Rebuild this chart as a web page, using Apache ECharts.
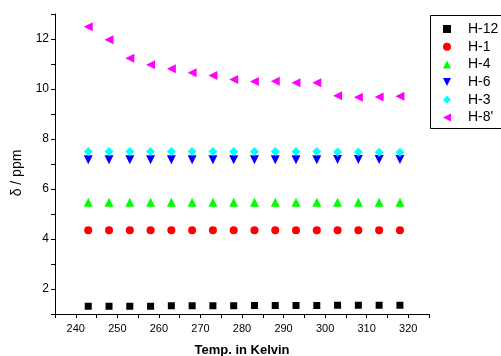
<!DOCTYPE html>
<html><head><meta charset="utf-8">
<script src="https://cdn.jsdelivr.net/npm/echarts@6/dist/echarts.min.js"></script>
<style>html,body{margin:0;padding:0;background:#fff}#c{width:501px;height:356px}</style>
</head><body><div id="c"></div>
<script>
const temps = [243,248,253,258,263,268,273,278,283,288,293,298,303,308,313,318];
const H12 = [1.31,1.31,1.31,1.31,1.33,1.33,1.33,1.33,1.34,1.34,1.34,1.34,1.35,1.35,1.35,1.35];
const H1  = [4.35,4.35,4.35,4.35,4.35,4.35,4.35,4.35,4.35,4.35,4.35,4.35,4.35,4.35,4.35,4.35];
const H4  = [5.47,5.47,5.47,5.47,5.47,5.47,5.47,5.47,5.47,5.47,5.47,5.47,5.47,5.47,5.47,5.47];
const H6  = [7.17,7.17,7.17,7.17,7.17,7.17,7.17,7.17,7.17,7.17,7.17,7.17,7.18,7.18,7.18,7.18];
const H3  = [7.5,7.5,7.5,7.5,7.5,7.5,7.5,7.5,7.5,7.5,7.5,7.5,7.48,7.48,7.47,7.47];
const H8p = [12.49,11.97,11.23,10.97,10.81,10.65,10.54,10.38,10.30,10.31,10.25,10.25,9.73,9.67,9.68,9.71];
const seriesNames = ['H-12','H-1','H-4','H-6','H-3',"H-8'"];
const xTickLabels = ['240','250','260','270','280','290','300','310','320'];
const yTickLabels = ['2','4','6','8','10','12'];

const styles = [
  {symbol:'rect', size:7, rot:0, color:'#000000', icon:'rect'},
  {symbol:'circle', size:8, rot:0, color:'#ff0000', icon:'circle'},
  {symbol:'triangle', size:9, rot:0, color:'#00ff00', icon:'triangle'},
  {symbol:'triangle', size:9, rot:180, color:'#0000ff', icon:'path://M0,0L10,0L5,10Z'},
  {symbol:'diamond', size:9, rot:0, color:'#00ffff', icon:'diamond'},
  {symbol:'triangle', size:9, rot:90, color:'#ff00ff', icon:'path://M10,0L10,10L0,5Z'}
];
const dataSets = [H12,H1,H4,H6,H3,H8p];
const font = 'Liberation Sans, Arial, sans-serif';
const chart = echarts.init(document.getElementById('c'), null, {renderer:'canvas'});
chart.setOption({
  animation:false,
  backgroundColor:'#fff',
  grid:{left:55, right:72, top:14, bottom:42, outerBoundsMode:'none', containLabel:false},
  graphic:[{type:'rect', shape:{x:430.5, y:15.5, width:80, height:113},
    style:{fill:'none', stroke:'#000', lineWidth:1}, silent:true, z:-1}],
  legend:{
    orient:'vertical', left:443, top:22,
    data: seriesNames.map((n,i)=>({name:n, icon:styles[i].icon})),
    itemWidth:8, itemHeight:8, itemGap:3.7,
    padding:0,
    itemStyle:{borderWidth:0, opacity:1},
    textStyle:{fontFamily:font, fontSize:14, color:'#000', padding:[0,0,0,12]}
  },
  xAxis:{
    type:'value', min:235, max:325, interval:5,
    name:'Temp. in Kelvin', nameLocation:'middle', nameGap:30,
    nameTextStyle:{fontFamily:font, fontSize:13, fontWeight:'bold', color:'#000'},
    axisLine:{onZero:false, lineStyle:{color:'#000', width:1}},
    axisTick:{show:true, length:4, lineStyle:{color:'#000'}},
    splitLine:{show:false},
    axisLabel:{fontFamily:font, fontSize:11, color:'#000', margin:9,
      formatter:v=> xTickLabels.includes(String(v)) ? String(v) : ''}
  },
  yAxis:{
    type:'value', min:1, max:13, interval:1,
    name:'δ / ppm', nameLocation:'middle', nameGap:31, nameRotate:90,
    nameTextStyle:{fontFamily:font, fontSize:14, color:'#000', padding:[0,18,0,0]},
    axisLine:{show:true, onZero:false, lineStyle:{color:'#000', width:1}},
    axisTick:{show:true, length:4, lineStyle:{color:'#000'}},
    splitLine:{show:false},
    axisLabel:{fontFamily:font, fontSize:12, color:'#000', margin:6,
      formatter:v=> yTickLabels.includes(String(v)) ? String(v) : ''}
  },
  series: seriesNames.map((n,i)=>({
    name:n, type:'scatter',
    symbol:styles[i].symbol, symbolSize:styles[i].size, symbolRotate:styles[i].rot,
    itemStyle:{color:styles[i].color, opacity:1},
    data: temps.map((t,j)=>[t, dataSets[i][j]])
  }))
});
</script></body></html>
